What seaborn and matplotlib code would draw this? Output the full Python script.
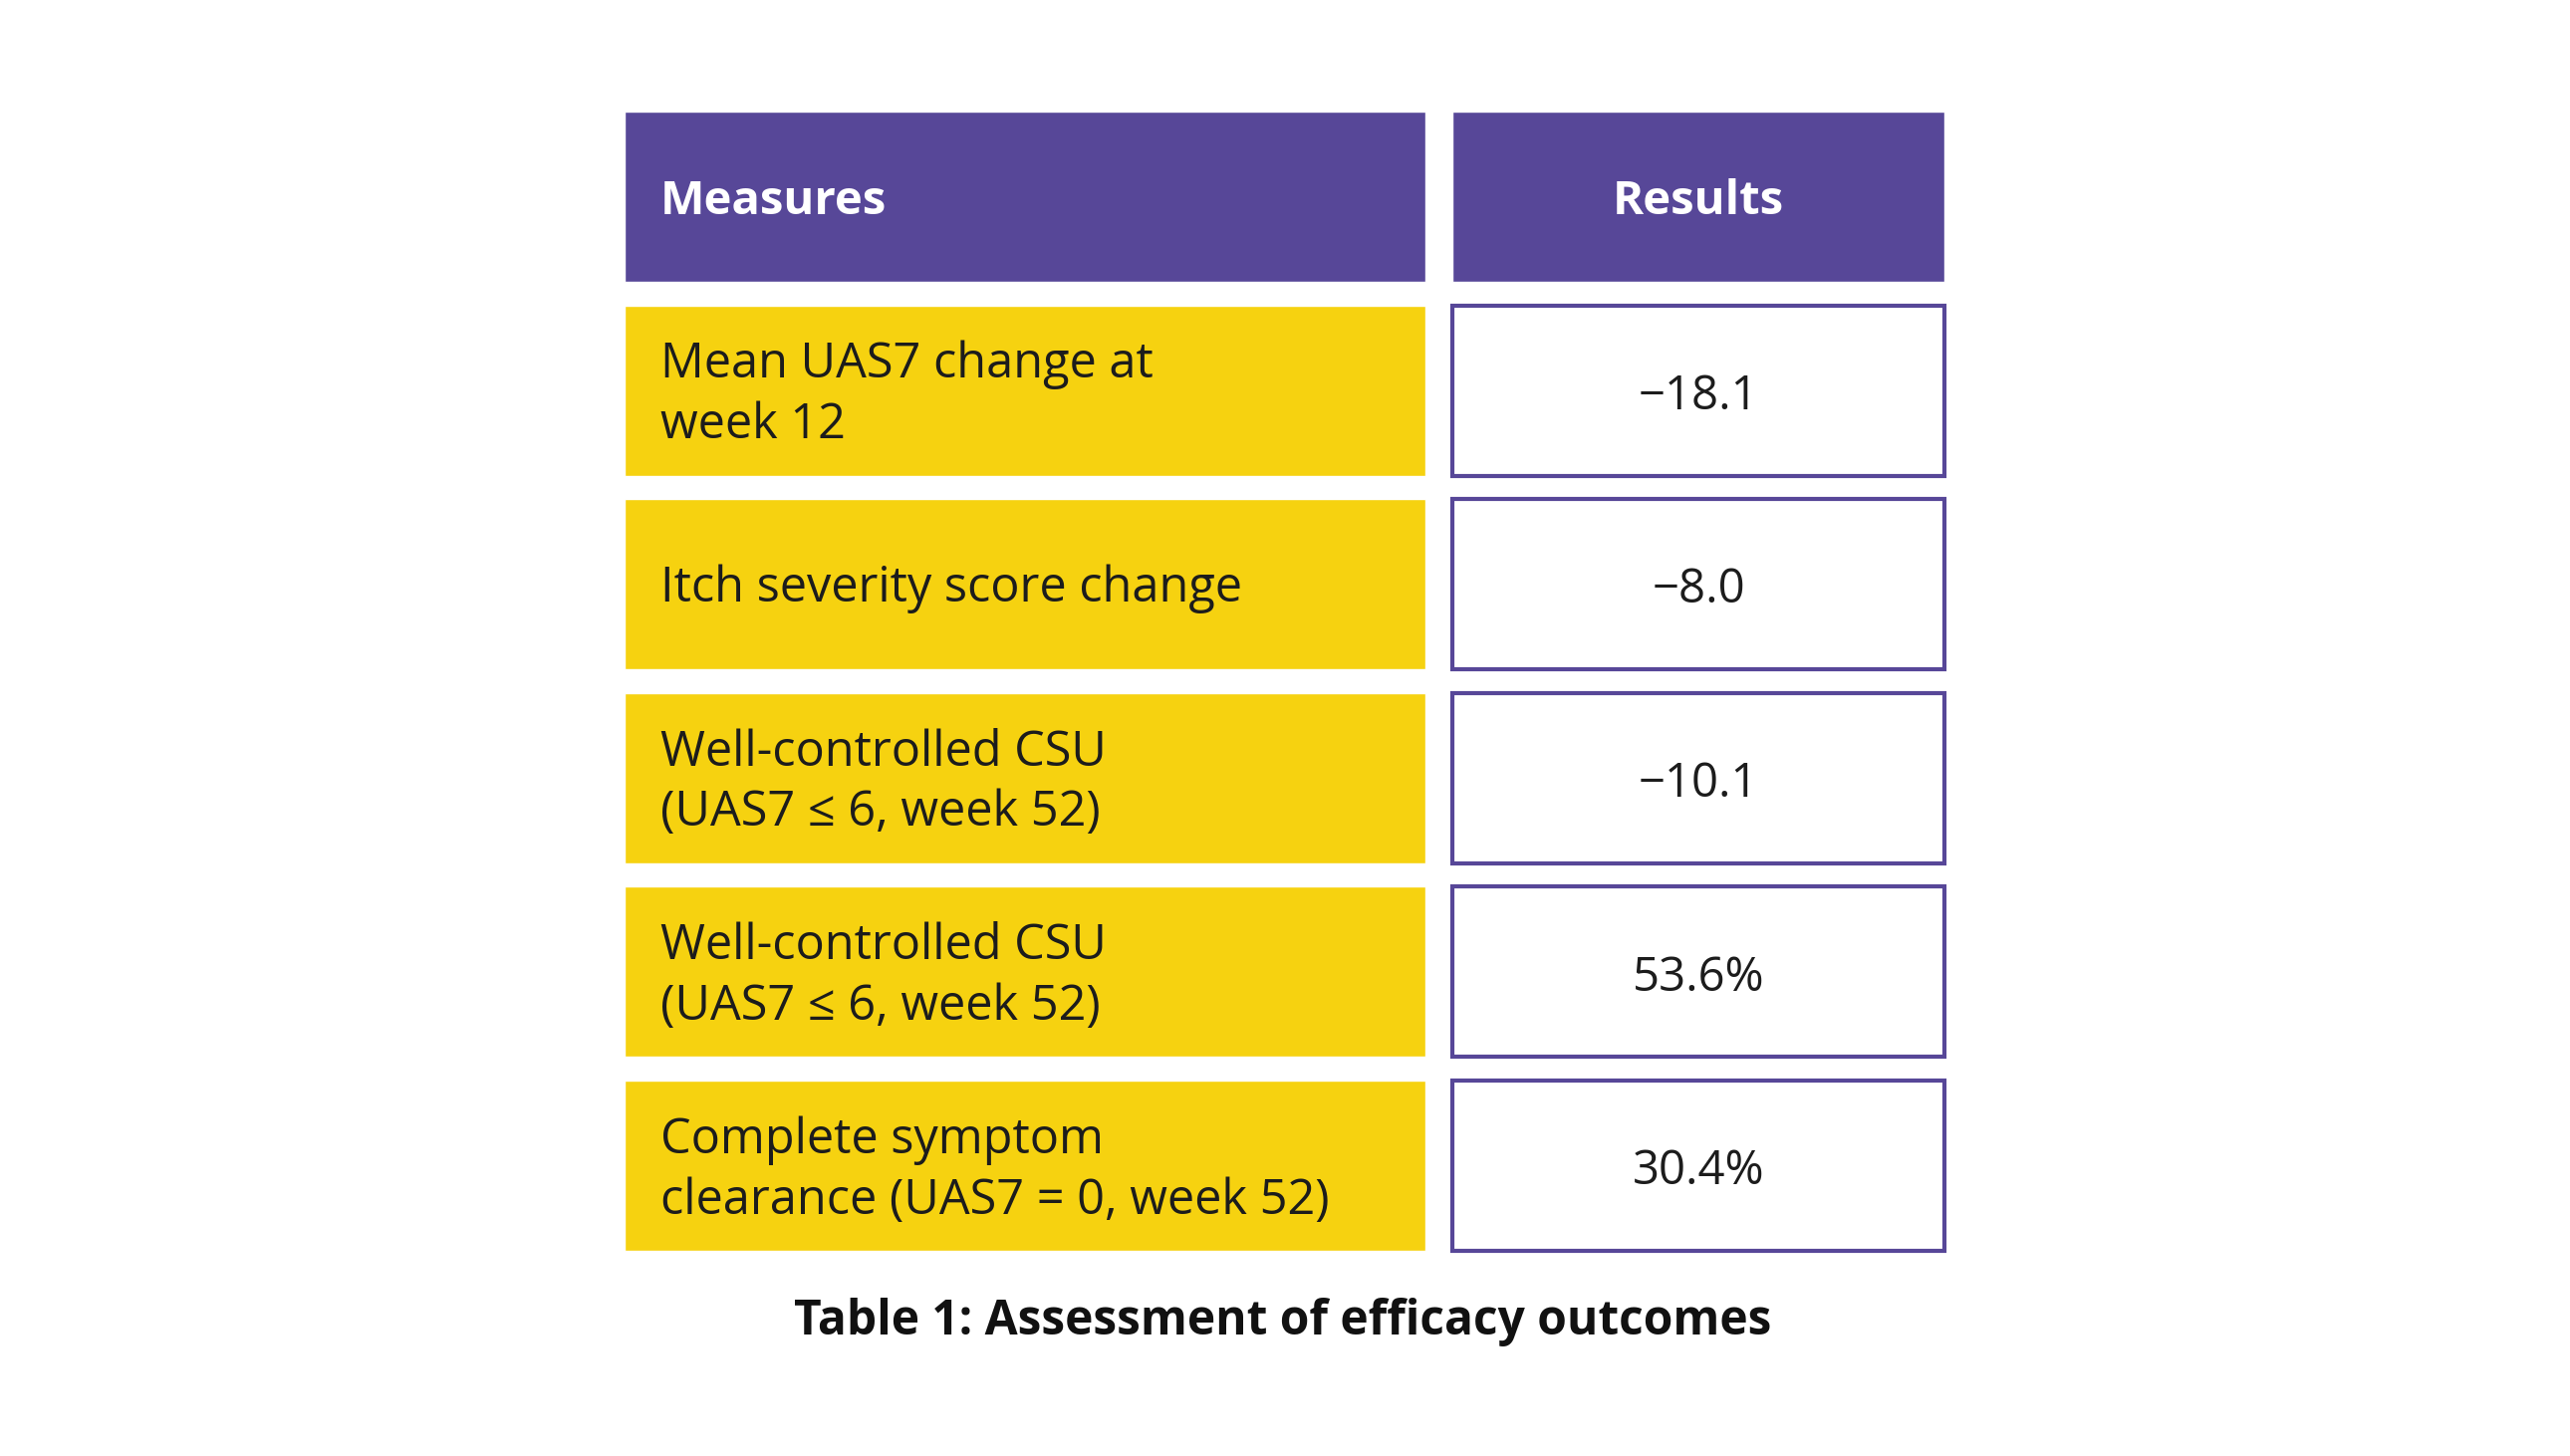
import numpy as np
import seaborn as sns
import matplotlib.pyplot as plt

measures = [
    "Mean UAS7 change at\nweek 12",
    "Itch severity score change",
    "Well-controlled CSU\n(UAS7 ≤ 6, week 52)",
    "Well-controlled CSU\n(UAS7 ≤ 6, week 52)",
    "Complete symptom\nclearance (UAS7 = 0, week 52)",
]
results = ["−18.1", "−8.0", "−10.1", "53.6%", "30.4%"]
headers = ["Measures", "Results"]
caption = "Table 1: Assessment of efficacy outcomes"

PURPLE = "#574798"
YELLOW = "#F6D210"
INK = "#1c1c1c"

# layout in pixel units
W, H = 2580, 1462
TOP = 112
ROW_H = 171
PITCH = 194.6
COL1 = (627, 1431)
COL2 = (1458, 1952)
TEXT_PAD = 36
NUDGE = 5  # text sits a touch below the cell centre

sns.set_theme(style="white")
plt.rcParams["font.family"] = ["Open Sans", "DejaVu Sans"]

fig = plt.figure(figsize=(W / 100, H / 100), dpi=100)
ax = fig.add_axes([0, 0, 1, 1])
ax.set_xlim(0, W)
ax.set_ylim(H, 0)
ax.axis("off")

ys = TOP + ROW_H / 2 + np.arange(len(measures) + 1) * PITCH

# header row
ax.barh(ys[0], COL1[1] - COL1[0], left=COL1[0], height=ROW_H, color=PURPLE)
ax.barh(ys[0], COL2[1] - COL2[0], left=COL2[0], height=ROW_H, color=PURPLE)
ax.text(COL1[0] + TEXT_PAD, ys[0] + NUDGE, headers[0], color="white",
        fontsize=34, fontweight="bold", va="center", ha="left")
ax.text((COL2[0] + COL2[1]) / 2, ys[0] + NUDGE, headers[1], color="white",
        fontsize=34, fontweight="bold", va="center", ha="center")

# body rows
body = ys[1:]
ax.barh(body, COL1[1] - COL1[0], left=COL1[0], height=ROW_H, color=YELLOW)
ax.barh(body, COL2[1] - COL2[0], left=COL2[0], height=ROW_H,
        facecolor="white", edgecolor=PURPLE, linewidth=3)

for y, m, r in zip(body, measures, results):
    ax.text(COL1[0] + TEXT_PAD, y + NUDGE, m, color=INK, fontsize=35,
            va="center", ha="left", linespacing=1.3)
    ax.text((COL2[0] + COL2[1]) / 2, y + NUDGE + 1, r, color=INK, fontsize=34,
            va="center", ha="center")

ax.text(1288, 1327, caption, color="#111111", fontsize=34.5, fontweight="bold",
        va="center", ha="center")

fig.savefig("out.png", dpi=100, facecolor="white")
